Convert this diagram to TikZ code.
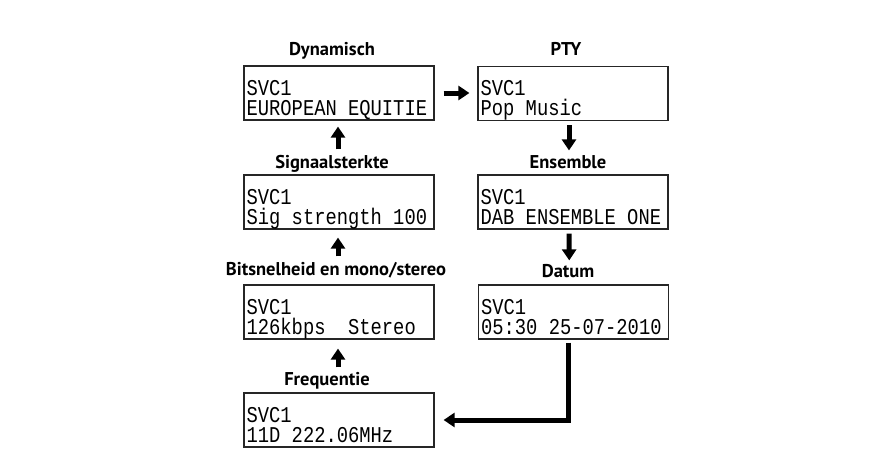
\documentclass[tikz,border=0pt]{standalone}
\usepackage{fontspec}
\usepackage{graphicx}
\usetikzlibrary{arrows.meta,calc}
\newfontfamily\lcdfont{Liberation Mono}
\newfontfamily\lblfont{PT Sans}
\newcommand\tall[1]{\scalebox{1}[1.2]{#1}}
\newcommand\lcdpair[2]{\vbox{\baselineskip=20pt\lineskiplimit=-50pt\lineskip=0pt\hbox{\tall{#1}}\hbox{\tall{#2}}}}
\newcommand\screen[5]{%
  \node[scr] (#1) at (#2,#3) {};
  \node[lcd] (#1t) at ([xshift=3pt,yshift=-50pt]#1.north west) {\lcdpair{#4}{#5}};}
\begin{document}
\begin{tikzpicture}[x=1pt,y=-1pt,
  scr/.style={draw=black!85, line width=1.2pt, minimum width=190pt, minimum height=54pt, inner sep=0pt, fill=white},
  lcd/.style={font=\lcdfont\fontsize{18.8pt}{19pt}\selectfont, inner sep=0pt, anchor=base west},
  lbl/.style={font=\lblfont\bfseries\fontsize{18.5pt}{20pt}\selectfont, inner sep=0pt, anchor=base},
  arr/.style={line width=5pt, -{Triangle[width=14pt,length=11pt]}}]
\useasboundingbox (0,0) rectangle (891,464);
% left column
\screen{b1}{339}{93}{SVC1}{EUROPEAN EQUITIE}
\screen{b2}{339}{202}{SVC1}{Sig strength 100}
\screen{b3}{339}{312}{SVC1}{126kbps\ \ Stereo}
\screen{b4}{339}{420}{SVC1}{11D 222.06MHz}
% right column
\screen{p1}{573}{93.5}{SVC1}{Pop Music}
\screen{p2}{573}{202}{SVC1}{DAB ENSEMBLE ONE}
\screen{p3}{573.5}{312}{SVC1}{05:30 25-07-2010}
% labels
\node[lbl] (l1) at (332,55) {Dynamisch};
\node[lbl] (l2) at (332,168) {Signaalsterkte};
\node[lbl] (l3) at (336,275) {Bitsnelheid en mono/stereo};
\node[lbl] (l4) at (327,385) {Frequentie};
\node[lbl] (r1) at (566,55) {PTY};
\node[lbl] (r2) at (568,168) {Ensemble};
\node[lbl] (r3) at (568,277) {Datum};
% arrows
\draw[arr, shorten <=25pt, shorten >=6pt] ([xshift=-1pt]b2.north) -- ([xshift=-1pt]b1.south);
\draw[arr, shorten <=28pt, shorten >=8pt] ([xshift=-1pt]b3.north) -- ([xshift=-1pt]b2.south);
\draw[arr, shorten <=25pt, shorten >=9pt] ([xshift=-1pt]b4.north) -- ([xshift=-1pt]b3.south);
\draw[arr, shorten <=9pt, shorten >=8pt] (b1.east) -- (b1.east -| p1.west);
\draw[arr, shorten <=4pt, shorten >=24pt] ([xshift=-4pt]p1.south) -- ([xshift=-4pt]p2.north);
\draw[arr, shorten <=4pt, shorten >=24pt] ([xshift=-4pt]p2.south) -- ([xshift=-4pt]p3.north);
\draw[arr, shorten <=3pt, shorten >=9pt] ([xshift=-5pt]p3.south) |- (b4.east);
\end{tikzpicture}
\end{document}
